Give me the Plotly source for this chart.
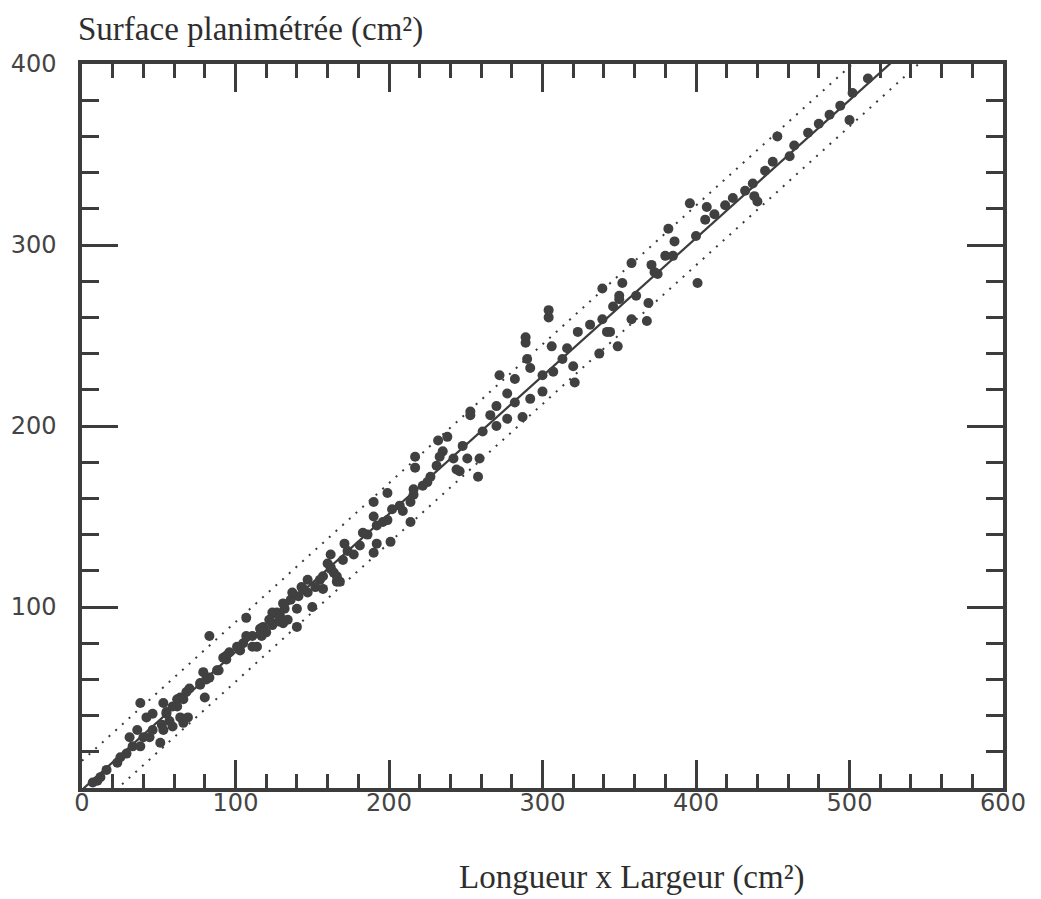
import plotly.graph_objects as go

x_vals = [500, 453, 461, 440, 438, 396, 407, 406, 400, 382, 386, 380, 371, 358, 373, 401, 352, 350, 346, 361,
          369, 358, 368, 344, 339, 339, 349,
          512, 502, 494, 487, 480, 473, 464, 450, 445, 437, 432, 424, 419, 412,
          385, 375, 350, 331, 342, 337, 323, 304, 304, 289, 289, 306, 316, 313, 320, 290, 292, 307, 300,
          272, 282, 321, 300, 277, 282, 292, 287, 270, 266, 270, 261, 253, 253, 277, 238, 232, 248, 235,
          242, 251, 259, 217, 217, 231, 246, 258, 216, 225,
          233, 244, 227, 222, 199, 216, 214, 190, 202, 209, 190, 199, 214, 192, 183, 201, 192, 171, 181,
          190, 177, 162, 170, 160, 164, 155, 166, 147, 152, 141, 144, 136, 132, 140, 150, 124, 128, 134,
          107, 140, 118,
          83, 129, 124, 120, 111, 111, 105, 96, 92, 88, 81, 77, 80, 68, 64, 59, 55, 64, 66, 52, 46, 36,
          51, 40, 33, 29, 23, 16, 12, 7, 38, 79,
          114, 168, 46, 53, 62, 70, 57, 42, 31, 25, 10, 94, 103, 117, 131, 147, 162, 157,
          38, 44, 53, 55, 62, 59, 66, 69, 77, 83, 89, 94, 101, 107, 116, 122, 127, 131, 137, 143,
          162, 166, 157, 173, 186, 196, 207]
y_vals = [369, 360, 349, 324, 327, 323, 321, 314, 305, 309, 302, 294, 289, 290, 285, 279, 279, 272, 266, 272,
          268, 259, 258, 252, 259, 276, 244,
          392, 384, 377, 372, 367, 362, 355, 346, 341, 334, 330, 326, 322, 317,
          294, 284, 270, 256, 252, 240, 252, 260, 264, 249, 246, 244, 243, 237, 233, 237, 232, 230, 228,
          228, 226, 224, 219, 218, 213, 215, 205, 211, 206, 200, 197, 208, 206, 204, 194, 192, 189, 186,
          182, 182, 182, 183, 177, 178, 175, 172, 165, 169,
          183, 176, 172, 167, 163, 162, 158, 158, 154, 153, 150, 148, 147, 145, 141, 136, 135, 135, 134,
          130, 129, 129, 126, 124, 119, 115, 114, 115, 111, 106, 110, 104, 99, 99, 100, 97, 92, 93,
          94, 89, 89,
          84, 95, 90, 86, 84, 78, 80, 75, 72, 65, 60, 57, 50, 53, 50, 45, 41, 39, 36, 35, 32, 32,
          25, 28, 23, 19, 14, 10, 6, 3, 47, 64,
          78, 114, 41, 47, 49, 55, 37, 39, 28, 17, 4, 71, 76, 84, 91, 108, 121, 110,
          23, 28, 32, 42, 45, 34, 49, 39, 58, 61, 65, 73, 78, 84, 88, 93, 97, 102, 108, 111,
          122, 117, 117, 131, 140, 147, 156]

# Regression line and confidence band (coefficients)
fit_slope, fit_intercept = 0.762, -1.0
upper_slope, upper_intercept = 0.767, 15.0
lower_slope, lower_intercept = 0.767, -18.0
line_x = [0, 600]

x_ticks = [0, 100, 200, 300, 400, 500, 600]
y_ticks = [100, 200, 300, 400]

ink = "#3c3c3c"

fig = go.Figure()
fig.add_trace(go.Scatter(
    x=line_x, y=[upper_slope * v + upper_intercept for v in line_x], mode="lines",
    line=dict(color=ink, width=2, dash="2px,7px"), hoverinfo="skip"))
fig.add_trace(go.Scatter(
    x=line_x, y=[lower_slope * v + lower_intercept for v in line_x], mode="lines",
    line=dict(color=ink, width=2, dash="2px,7px"), hoverinfo="skip"))
fig.add_trace(go.Scatter(
    x=line_x, y=[fit_slope * v + fit_intercept for v in line_x], mode="lines",
    line=dict(color=ink, width=2.2), hoverinfo="skip"))
fig.add_trace(go.Scatter(
    x=x_vals, y=y_vals, mode="markers",
    marker=dict(color="#404040", size=10, line=dict(width=0)), cliponaxis=True))

axis_common = dict(
    showline=True, linecolor=ink, linewidth=3.5, mirror="allticks",
    ticks="inside", tickcolor=ink, tickwidth=3,
    showgrid=False, zeroline=False, automargin=False,
    tickfont=dict(family="DejaVu Sans", size=24, color="#444444"),
)

fig.update_xaxes(range=[0, 600], tickmode="array", tickvals=x_ticks,
                 ticktext=[str(v) for v in x_ticks], ticklen=28, ticklabelstandoff=-10,
                 minor=dict(dtick=20, tick0=0, ticks="inside", ticklen=14, tickwidth=3, tickcolor=ink),
                 **axis_common)
fig.update_yaxes(range=[0, 400], tickmode="array", tickvals=y_ticks,
                 ticktext=[str(v) for v in y_ticks], ticklen=36, ticklabelstandoff=17,
                 minor=dict(dtick=20, tick0=0, ticks="inside", ticklen=17, tickwidth=3, tickcolor=ink),
                 **axis_common)

fig.update_layout(
    width=1041, height=899,
    margin=dict(l=74, r=46, t=56, b=119, pad=0),
    paper_bgcolor="white", plot_bgcolor="white",
    showlegend=False,
    annotations=[
        dict(text="Surface planimétrée (cm²)", xref="paper", yref="paper",
             x=-0.006, y=1.047, xanchor="left", yanchor="middle", showarrow=False,
             font=dict(family="Liberation Serif", size=33, color="#2e2e2e")),
        dict(text="Longueur x Largeur (cm²)", xref="paper", yref="paper",
             x=0.597, y=-0.123, xanchor="center", yanchor="middle", showarrow=False,
             font=dict(family="Liberation Serif", size=33, color="#2e2e2e")),
    ],
)

fig.write_html("out.html")
